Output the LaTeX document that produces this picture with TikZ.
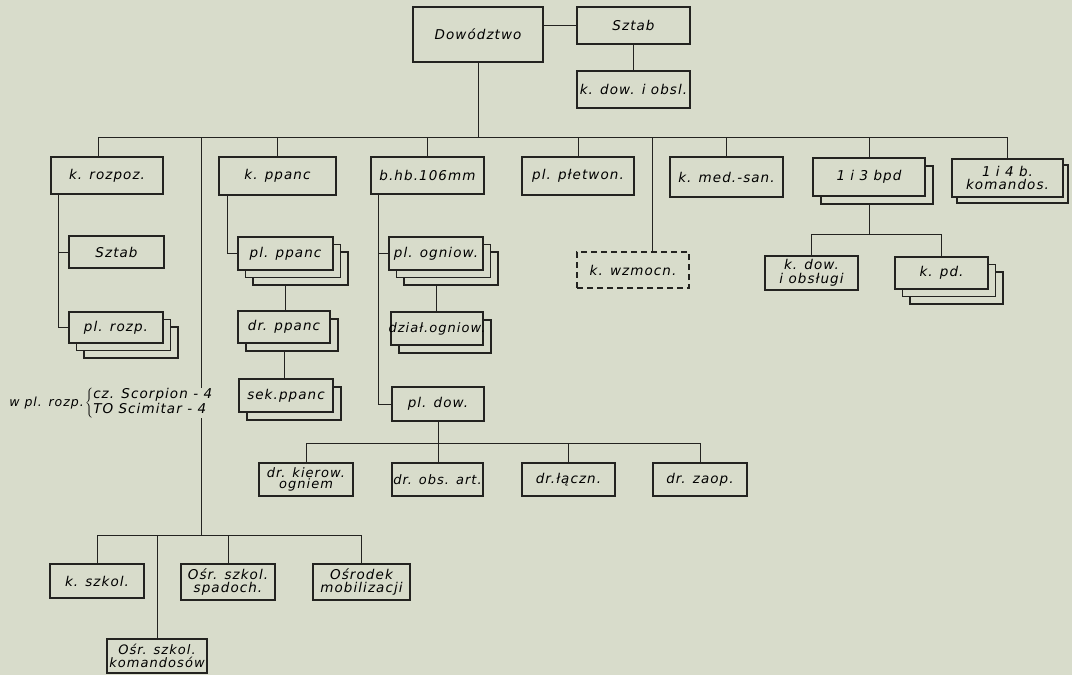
\documentclass[tikz,border=0pt]{standalone}
\usepackage{fontspec}
\setmainfont{DejaVu Sans}[LetterSpace=8]
\usetikzlibrary{shadows, backgrounds}
\definecolor{paper}{RGB}{216,220,203}
\definecolor{ink}{RGB}{35,35,32}

\tikzset{
  unit/.style={draw=ink, fill=paper, line width=1.3pt, inner sep=1pt, align=center,
    font=\fontsize{13.5}{14}\selectfont\itshape},
  twoline/.style={font=\fontsize{13.5}{13.5}\selectfont\itshape},
  dims/.style 2 args={minimum width=#1pt, minimum height=#2pt},
  stack2/.style={copy shadow={shadow xshift=8pt, shadow yshift=-8pt, fill=paper, draw=ink, line width=1.3pt}},
  stack3/.style={copy shadow={shadow xshift=15pt, shadow yshift=-15pt, fill=paper, draw=ink, line width=1.3pt},
                 copy shadow={shadow xshift=7.5pt, shadow yshift=-7.5pt, fill=paper, draw=ink, line width=1.3pt}},
  link/.style={draw=ink, line width=0.9pt},
}

\begin{document}
\begin{tikzpicture}[x=1pt, y=-1pt]
    \useasboundingbox (0,0) rectangle (1072,675);

    % command and staff
    \node[unit, dims={130}{55}] (dow) at (478,34.5) {Dowództwo};
    \node[unit, dims={113}{37}] (sztab) at (633.5,25.5) {Sztab};
    \node[unit, dims={113}{37}] (kdow) at (633.5,89.5) {k. dow. i obsl.};

    % first row
    \node[unit, dims={112}{37}] (rozpoz) at (107,175.5) {k. rozpoz.};
    \node[unit, dims={117}{38}] (ppanc) at (277.5,176) {k. ppanc};
    \node[unit, dims={113}{37}] (hb) at (427.5,175.5) {b.hb.106mm};
    \node[unit, dims={112}{38}] (pletw) at (578,176) {pl. płetwon.};
    \node[unit, dims={113}{40}] (medsan) at (726.5,177) {k. med.-san.};
    \node[unit, stack2, dims={112}{38}] (bpd) at (869,177) {1 i 3 bpd};
    \node[unit, twoline, dims={111}{38},
          copy shadow={shadow xshift=5pt, shadow yshift=-6pt, fill=paper, draw=ink, line width=1.3pt}]
          (kom) at (1007.5,178) {1 i 4 b.\\komandos.};

    % k. rozpoz.
    \node[unit, dims={95}{32}] (sztabr) at (116.5,252) {Sztab};
    \node[unit, stack3, dims={94}{31}] (plrozp) at (116,327.5) {pl. rozp.};

    % k. ppanc
    \node[unit, stack3, dims={95}{33}] (plppanc) at (285.5,253.5) {pl. ppanc};
    \node[unit, stack2, dims={92}{32}] (drppanc) at (284,327) {dr. ppanc};
    \node[unit, stack2, dims={94}{33}] (sekppanc) at (286,395.5) {sek.ppanc};

    % b.hb.106mm
    \node[unit, stack3, dims={94}{33}] (plogn) at (436,253.5) {pl. ogniow.};
    \node[unit, stack2, dims={92}{33}, inner xsep=-4pt, font=\fontsize{13}{13}\selectfont\itshape] (dzial) at (437,328.5) {dział.ogniow.};
    \node[unit, dims={92}{34}] (pldow) at (438,404) {pl. dow.};
    \node[unit, dims={94}{33}, font=\fontsize{13}{11.5}\selectfont\itshape] (drkier) at (306,479.5) {dr. kierow.\\ogniem};
    \node[unit, dims={91}{33}, inner xsep=-2pt, font=\fontsize{13}{13}\selectfont\itshape] (drobs) at (437.5,479.5) {dr. obs. art.};
    \node[unit, dims={93}{33}] (drlacz) at (568.5,479.5) {dr.łączn.};
    \node[unit, dims={94}{33}] (drzaop) at (700,479.5) {dr. zaop.};

    % k. wzmocn. and 1 i 3 bpd
    \node[unit, dims={112}{36}, dash pattern=on 6pt off 4pt] (wzmocn) at (633,270) {k. wzmocn.};
    \node[unit, twoline, dims={93}{34}] (kdowo) at (811.5,273) {k. dow.\\i obsługi};
    \node[unit, stack3, dims={93}{32}] (kpd) at (941.5,273) {k. pd.};

    % schools
    \node[unit, dims={94}{34}] (kszkol) at (97,581) {k. szkol.};
    \node[unit, twoline, dims={100}{34}, font=\fontsize{13}{13.5}\selectfont\itshape] (osrkom) at (157,656) {Ośr. szkol.\\komandosów};
    \node[unit, twoline, dims={94}{36}] (osrspad) at (228,582) {Ośr. szkol.\\spadoch.};
    \node[unit, twoline, dims={97}{36}] (osrmob) at (361.5,582) {Ośrodek\\mobilizacji};

    % note on pl. rozp.
    \node[font=\fontsize{12.5}{12}\selectfont\itshape, anchor=east, inner sep=1pt] (wpl) at (85,403) {w pl. rozp.};
    \node[font=\fontsize{13.5}{15}\selectfont\itshape, anchor=west, inner sep=0pt, fill=paper] (veh) at (wpl.east)
        {$\left\{\begin{tabular}{@{}l@{}}cz. Scorpion - 4\\TO Scimitar - 4\end{tabular}\right.$};

    \begin{scope}[on background layer]
        \fill[paper] (0,0) rectangle (1072,675);
        \coordinate (bus) at (479,137);
        \coordinate (spine) at (201,137);
        \coordinate (spineend) at (201,535);
        \coordinate (wz) at (652,137);
        \coordinate (rl) at ([xshift=-49pt]rozpoz.south);
        \coordinate (pl) at ([xshift=-50pt]ppanc.south);
        \coordinate (hl) at ([xshift=-49pt]hb.south);
        \coordinate (pdbus) at ([yshift=-22pt]pldow.south);
        \coordinate (bpdbus) at ([yshift=-38pt]bpd.south);

        % main bus
        \draw[link] (sztab.west) -- (sztab.west -| dow.east);
        \draw[link] (sztab) -- (kdow);
        \draw[link] (dow) -- (dow |- bus);
        \draw[link] ([xshift=-9pt]rozpoz.north) |- (kom.north |- bus) -- (kom.north);
        \foreach \n in {ppanc, hb, pletw, medsan, bpd}
            \draw[link] (\n.north) -- (\n.north |- bus);
        \draw[link] (wz) -- (wz |- wzmocn.north);

        % k. rozpoz.
        \draw[link] (rl) |- (plrozp.west);
        \draw[link] (sztabr.west) -- (sztabr.west -| rl);

        % k. ppanc
        \draw[link] (pl) |- (plppanc.west);
        \draw[link] (plppanc) -- (plppanc |- drppanc.north);
        \draw[link] (drppanc) -- (drppanc |- sekppanc.north);

        % b.hb.106mm
        \draw[link] (hl) |- (pldow.west);
        \draw[link] (plogn.west) -- (plogn.west -| hl);
        \draw[link] (plogn) -- (plogn |- dzial.north);
        \draw[link] (pldow) -- (pldow |- drobs.north);
        \draw[link] (drkier.north) |- (drzaop.north |- pdbus) -- (drzaop.north);
        \draw[link] (drlacz.north) -- (drlacz.north |- pdbus);

        % 1 i 3 bpd
        \draw[link] (bpd) -- (bpdbus);
        \draw[link] (kdowo.north) |- (kpd.north |- bpdbus) -- (kpd.north);

        % schools
        \draw[link] (spine) -- (spineend);
        \draw[link] (kszkol.north) |- (osrmob.north |- spineend) -- (osrmob.north);
        \draw[link] (osrkom.north) -- (osrkom.north |- spineend);
        \draw[link] (osrspad.north) -- (osrspad.north |- spineend);
    \end{scope}
\end{tikzpicture}
\end{document}
